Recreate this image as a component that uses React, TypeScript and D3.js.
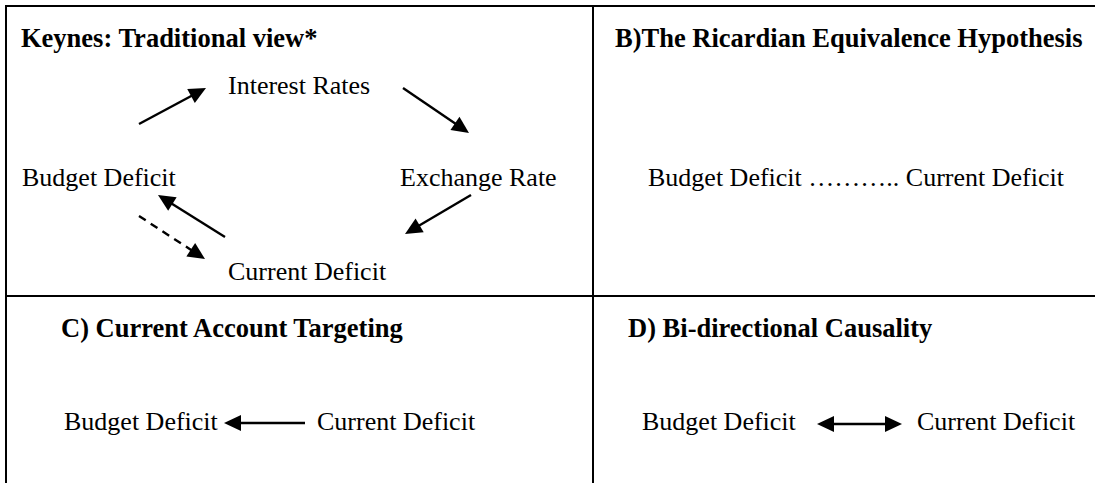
import React from "react";
import * as d3 from "d3";

// Diagram content
const panelTitles = [
  "Keynes: Traditional view*",
  "B)The Ricardian Equivalence Hypothesis",
  "C) Current Account Targeting",
  "D) Bi-directional Causality",
];
const keynesNodes = ["Interest Rates", "Budget Deficit", "Exchange Rate", "Current Deficit"];
const keynesLinks = [
  { source: "Budget Deficit", target: "Interest Rates", dashed: false },
  { source: "Interest Rates", target: "Exchange Rate", dashed: false },
  { source: "Exchange Rate", target: "Current Deficit", dashed: false },
  { source: "Current Deficit", target: "Budget Deficit", dashed: false },
  { source: "Budget Deficit", target: "Current Deficit", dashed: true },
];
const ricardianParts = ["Budget Deficit", "………..", "Current Deficit"];
const targetingNodes = ["Budget Deficit", "Current Deficit"];
const targetingLinks = [{ source: "Current Deficit", target: "Budget Deficit", both: false }];
const bidirectionalNodes = ["Budget Deficit", "Current Deficit"];
const bidirectionalLinks = [{ source: "Budget Deficit", target: "Current Deficit", both: true }];

const W = 1095;
const H = 483;
const FONT = '"Liberation Serif", "Times New Roman", Times, serif';
const FS = 26;
const FS_BOLD = 26.5;

// panel frames: grid lines
const colX = d3.scaleOrdinal<string, number>().domain(["left", "right"]).range([6, 593]);
const rowY = d3.scaleOrdinal<string, number>().domain(["top", "bottom"]).range([6, 296]);

// local coordinate scale per panel (local px -> page px)
function panelScales(col: string, row: string) {
  const x0 = colX(col);
  const y0 = rowY(row);
  return {
    x: d3.scaleLinear().domain([0, 100]).range([x0, x0 + 100]),
    y: d3.scaleLinear().domain([0, 100]).range([y0, y0 + 100]),
  };
}

// layout (panel-local)
const titleAt = [
  [15, 41],
  [22, 41],
  [55, 41],
  [35, 41],
];
const keynesNodeAt: Record<string, [number, number]> = {
  "Interest Rates": [222, 88],
  "Budget Deficit": [16, 180],
  "Exchange Rate": [394, 180],
  "Current Deficit": [222, 274],
};
const keynesArrowAt: [number, number][][] = [
  [[133, 118], [200, 82]],
  [[397, 82], [463, 127]],
  [[465, 189], [399, 228]],
  [[219, 231], [152, 189]],
  [[133, 210], [199, 253]],
];
const ricardianAt = [55, 180];
const targetingNodeAt: Record<string, [number, number]> = {
  "Budget Deficit": [58, 134],
  "Current Deficit": [311, 134],
};
const targetingArrowAt: [number, number][] = [[299, 127], [218, 127]];
const bidirNodeAt: Record<string, [number, number]> = {
  "Budget Deficit": [49, 134],
  "Current Deficit": [324, 134],
};
const bidirArrowAt: [number, number][] = [[224, 128], [309, 128]];

function head(tip: [number, number], from: [number, number], len: number, half: number) {
  const dx = tip[0] - from[0];
  const dy = tip[1] - from[1];
  const d = Math.hypot(dx, dy);
  const ux = dx / d;
  const uy = dy / d;
  const bx = tip[0] - ux * len;
  const by = tip[1] - uy * len;
  const pts: [number, number][] = [
    tip,
    [bx - uy * half, by + ux * half],
    [bx + uy * half, by - ux * half],
  ];
  return { base: [bx, by] as [number, number], d: (d3.line()(pts) || "") + "Z" };
}

function Arrow({
  a,
  b,
  dashed = false,
  both = false,
  len = 17,
  half = 8,
}: {
  a: [number, number];
  b: [number, number];
  dashed?: boolean;
  both?: boolean;
  len?: number;
  half?: number;
}) {
  const hb = head(b, a, len, half);
  const ha = both ? head(a, b, len, half) : null;
  const start = ha ? ha.base : a;
  return (
    <g>
      <line
        x1={start[0]}
        y1={start[1]}
        x2={hb.base[0] + (b[0] - hb.base[0]) * 0.2}
        y2={hb.base[1] + (b[1] - hb.base[1]) * 0.2}
        stroke="#000"
        strokeWidth={2.4}
        strokeDasharray={dashed ? "8,6" : undefined}
      />
      <path d={hb.d} fill="#000" />
      {ha && <path d={ha.d} fill="#000" />}
    </g>
  );
}

export default function App() {
  const A = panelScales("left", "top");
  const B = panelScales("right", "top");
  const C = panelScales("left", "bottom");
  const D = panelScales("right", "bottom");
  const panels = [A, B, C, D];
  const P = (s: typeof A, p: [number, number]): [number, number] => [s.x(p[0]), s.y(p[1])];

  return (
    <svg
      width={W}
      height={H}
      style={{ position: "absolute", left: 0, top: 0, background: "#fff" }}
      fontFamily={FONT}
    >
      <rect width={W} height={H} fill="#fff" />
      {/* table grid */}
      <g stroke="#000" strokeWidth={2}>
        <line x1={colX("left") - 1} y1={rowY("top")} x2={W} y2={rowY("top")} />
        <line x1={colX("left") - 1} y1={rowY("bottom")} x2={W} y2={rowY("bottom")} />
        <line x1={colX("left")} y1={rowY("top") - 1} x2={colX("left")} y2={H} />
        <line x1={colX("right")} y1={rowY("top") - 1} x2={colX("right")} y2={H} />
      </g>

      {/* titles */}
      {panelTitles.map((t, i) => (
        <text
          key={t}
          x={panels[i].x(titleAt[i][0])}
          y={panels[i].y(titleAt[i][1])}
          fontSize={FS_BOLD}
          fontWeight="bold"
          fill="#000"
        >
          {t}
        </text>
      ))}

      {/* A) Keynes cycle */}
      {keynesNodes.map((n) => {
        const [x, y] = P(A, keynesNodeAt[n]);
        return (
          <text key={n} x={x} y={y} fontSize={FS} fill="#000">
            {n}
          </text>
        );
      })}
      {keynesLinks.map((l, i) => (
        <Arrow
          key={l.source + l.target}
          a={P(A, keynesArrowAt[i][0])}
          b={P(A, keynesArrowAt[i][1])}
          dashed={l.dashed}
        />
      ))}

      {/* B) Ricardian */}
      <text x={B.x(ricardianAt[0])} y={B.y(ricardianAt[1])} fontSize={FS} fill="#000">
        {ricardianParts.join(" ")}
      </text>

      {/* C) Targeting */}
      {targetingNodes.map((n) => {
        const [x, y] = P(C, targetingNodeAt[n]);
        return (
          <text key={n} x={x} y={y} fontSize={FS} fill="#000">
            {n}
          </text>
        );
      })}
      {targetingLinks.map((l) => (
        <Arrow
          key={l.source}
          a={P(C, targetingArrowAt[0])}
          b={P(C, targetingArrowAt[1])}
          both={l.both}
          len={17}
          half={8}
        />
      ))}

      {/* D) Bi-directional */}
      {bidirectionalNodes.map((n) => {
        const [x, y] = P(D, bidirNodeAt[n]);
        return (
          <text key={n} x={x} y={y} fontSize={FS} fill="#000">
            {n}
          </text>
        );
      })}
      {bidirectionalLinks.map((l) => (
        <Arrow
          key={l.source}
          a={P(D, bidirArrowAt[0])}
          b={P(D, bidirArrowAt[1])}
          both={l.both}
          len={17}
          half={8}
        />
      ))}
    </svg>
  );
}
